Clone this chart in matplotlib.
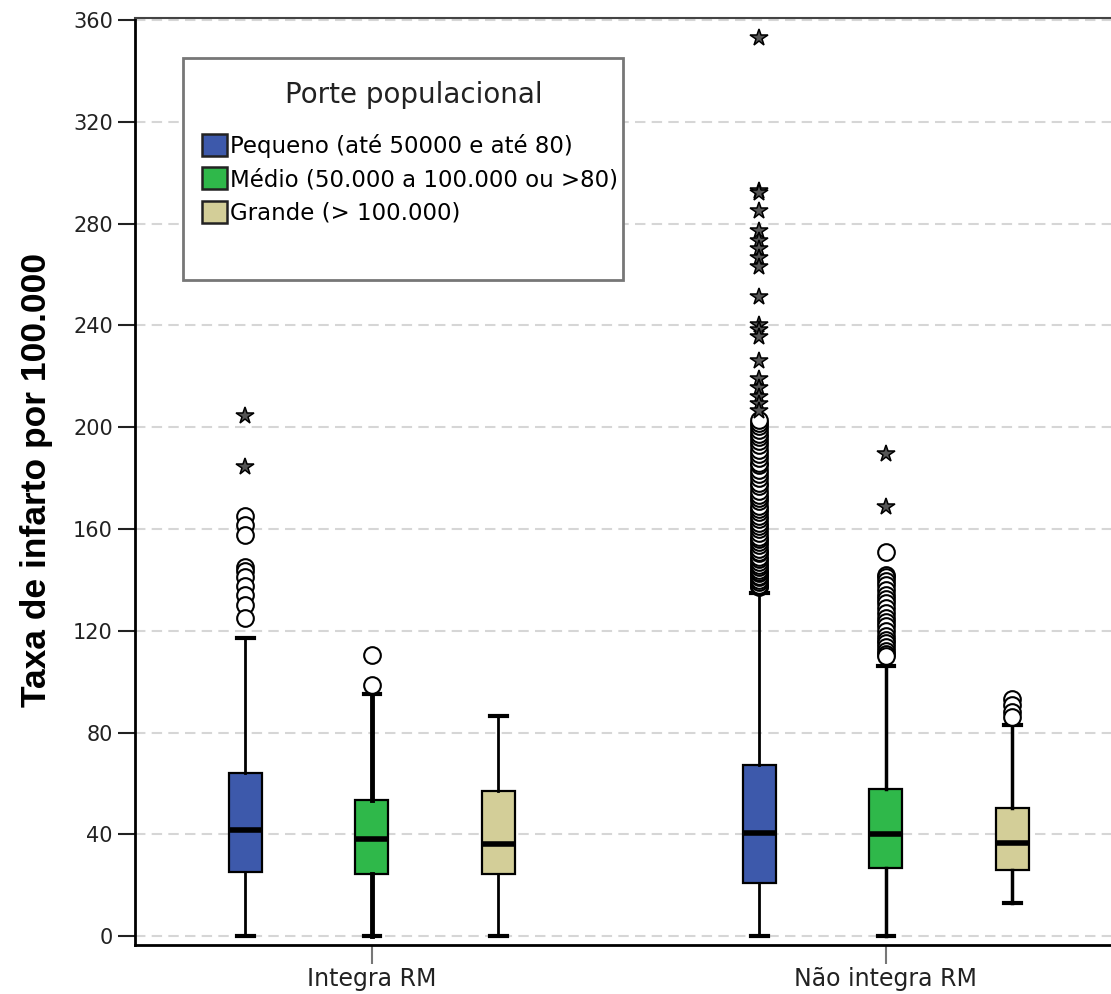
import matplotlib
matplotlib.use("Agg")
import matplotlib.pyplot as plt
from matplotlib.patches import Patch, Rectangle

groups = ["Integra RM", "Não integra RM"]
sizes = ["Pequeno (até 50000 e até 80)", "Médio (50.000 a 100.000 ou >80)", "Grande (> 100.000)"]
colors = ["#3D59AB", "#2FB84A", "#D3CE98"]

# order: Integra RM (pequeno, medio, grande), Não integra RM (pequeno, medio, grande)
q1 = [25, 24.3, 24.3, 21, 26.8, 26]
med = [41.8, 38.3, 36.3, 40.6, 40.2, 36.6]
q3 = [64.2, 53.3, 57.2, 67.3, 58, 50.4]
whis_lo = [0, 0, 0, 0, 0, 13.2]
whis_hi = [117, 95, 86.3, 135, 106, 83]

circ_1 = [165, 161.5, 157.5, 145, 143.5, 141, 137.5, 134, 130, 125]
circ_2 = [110.4, 98.8]
circ_3 = []
circ_4 = [137, 137.5, 138, 139, 140, 141, 141.5, 142.5, 143, 144, 145, 146, 147, 148,
          149, 150.5, 151, 152, 153.5, 155, 156, 157, 158.5, 160, 161, 162.5, 164, 165,
          166.5, 168, 169, 171, 172, 173.5, 175, 177, 178, 180, 181.5, 183, 185, 186,
          188, 189.5, 191, 193, 194.5, 196, 197.5, 199, 200.5, 201.5, 203]
circ_5 = [151, 142, 141, 139.5, 138, 136, 134, 132.5, 131, 129, 127, 125, 123.5, 122,
          120, 118, 116.5, 115, 113.5, 112, 111, 110]
circ_6 = [93, 91, 88, 86]
circles = [circ_1, circ_2, circ_3, circ_4, circ_5, circ_6]

star_1 = [204.5, 184.5]
star_4 = [353, 293, 292, 285, 277, 273, 270, 266.5, 263, 251, 240, 238, 235.5, 226,
          219, 215.5, 212, 209, 206.5]
star_5 = [189.6, 168.7]
stars = [star_1, [], [], star_4, star_5, []]

yticks = [0, 40, 80, 120, 160, 200, 240, 280, 320, 360]

fig = plt.figure(figsize=(11.11, 9.94), dpi=100)
ax = fig.add_axes([0.1215, 0.0493, 0.8785, 0.9326])

offsets = [-0.246, 0, 0.246]
whisker_lw = [2, 3.5, 2, 2, 2.5, 2.5]
for i in range(6):
    pos = i // 3 + offsets[i % 3]
    stat = dict(med=med[i], q1=q1[i], q3=q3[i], whislo=whis_lo[i], whishi=whis_hi[i],
                fliers=circles[i])
    ax.bxp([stat], positions=[pos], widths=0.064, capwidths=0.032, patch_artist=True,
           boxprops=dict(facecolor=colors[i % 3], edgecolor="black", linewidth=1.6),
           whiskerprops=dict(color="black", linewidth=whisker_lw[i]),
           capprops=dict(color="black", linewidth=3),
           medianprops=dict(color="black", linewidth=4),
           flierprops=dict(marker="o", markerfacecolor="white", markeredgecolor="black",
                           markersize=12, markeredgewidth=1.5),
           manage_ticks=False)
    if stars[i]:
        ax.plot([pos] * len(stars[i]), stars[i], linestyle="none", marker="*",
                markersize=13, markerfacecolor="#555555", markeredgecolor="black",
                markeredgewidth=1.1, zorder=3)

ax.set_xlim(-0.461, 1.438)
ax.set_ylim(-3.5, 360.8)
ax.set_yticks(yticks)
ax.set_xticks([0, 1], groups)
ax.yaxis.grid(True, linestyle=(0, (5, 3)), color="#d6d6d6", linewidth=1.5)
ax.set_axisbelow(True)
ax.tick_params(axis="y", length=12, width=1.5, labelsize=15, pad=4, colors="#222222")
ax.tick_params(axis="x", length=14, width=1.5, color="#777777", labelsize=17, pad=2,
               labelcolor="#222222")
for s in ["left", "bottom"]:
    ax.spines[s].set_linewidth(2)
ax.spines["top"].set_linewidth(1.5)
ax.spines["top"].set_color("#444444")
ax.spines["right"].set_visible(False)

fig.text(37 / 1111, 0.517, "Taxa de infarto por 100.000", rotation=90, ha="center",
         va="center", fontsize=25.5, fontweight="bold",
         family=["Liberation Sans", "DejaVu Sans"])

# legend box
ax.add_patch(Rectangle((0.0492, 0.7174), 0.4508, 0.2395, transform=ax.transAxes,
                       facecolor="white", edgecolor="#777777", linewidth=2, zorder=5))
ax.text(0.2859, 0.9169, "Porte populacional", transform=ax.transAxes, ha="center",
        va="center", fontsize=20, color="#222222", zorder=7)
handles = [Patch(facecolor=c, edgecolor="#222222", linewidth=1.8) for c in colors]
leg = ax.legend(handles, sizes, loc="upper left", bbox_to_anchor=(0.0687, 0.875),
                frameon=False, fontsize=16.5, borderpad=0, borderaxespad=0,
                handlelength=1.09, handleheight=1.09, handletextpad=0.13,
                labelspacing=0.42)
leg.set_zorder(6)

fig.savefig("out.png", dpi=100)
